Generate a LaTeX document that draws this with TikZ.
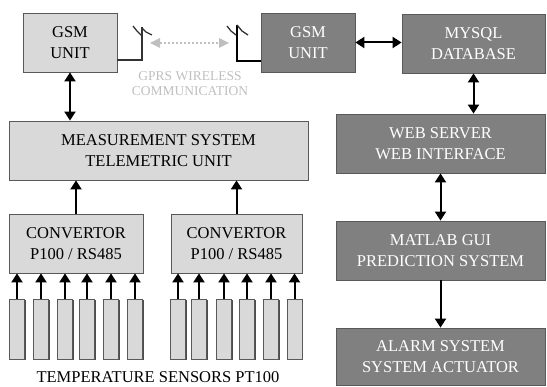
\documentclass[tikz,border=0pt]{standalone}
\usepackage{fontspec}
\setmainfont{Liberation Serif}
\newfontfamily\boxfont{Liberation Serif}
\usetikzlibrary{arrows.meta,shadows}

\begin{document}
\begin{tikzpicture}[x=1pt,y=-1pt,
  lbox/.style={draw=black!65, line width=0.8pt, fill=black!15, align=center,
    font=\boxfont\fontsize{16.5}{21}\selectfont, inner sep=0pt,
    drop shadow={shadow xshift=1.2pt, shadow yshift=-1.5pt, fill=black!70, opacity=1}},
  dbox/.style={lbox, fill=black!50, text=white},
  sensor/.style={lbox, minimum width=15pt, minimum height=60pt},
  link/.style={line width=2pt, -{Triangle[width=11pt,length=9pt]}},
  duplex/.style={link, {Triangle[width=11pt,length=9pt]}-{Triangle[width=11pt,length=9pt]}},
  air/.style={black!25, line width=2pt, dotted,
    {Triangle[width=10pt,length=10pt,line width=0pt]}-{Triangle[width=10pt,length=10pt,line width=0pt]}},
  mast/.style={black!80, line width=1.3pt},
]
\useasboundingbox (0,0) rectangle (547,387);

% field side
\node[lbox, minimum width=94pt, minimum height=59pt] (gsmA) at (70,42.5) {GSM\\UNIT};
\node[lbox, minimum width=299pt, minimum height=59pt] (meas) at (158.5,150.5)
  {MEASUREMENT SYSTEM\\TELEMETRIC UNIT};
\node[lbox, minimum width=134pt, minimum height=59pt] (convA) at (76,243.5)
  {CONVERTOR\\P100 / RS485};
\node[lbox, minimum width=131pt, minimum height=59pt] (convB) at (236.5,243.5)
  {CONVERTOR\\P100 / RS485};

%% sensors
\foreach \x [count=\i] in {17,41,65,87,111,135}
  \node[sensor] (sA\i) at (\x,329) {};
\foreach \x [count=\i] in {178,199,224,247,271,294.5}
  \node[sensor] (sB\i) at (\x,329) {};
\foreach \i in {1,...,6}{
  \draw[link] (sA\i.north) -- (sA\i.north |- convA.south);
  \draw[link] (sB\i.north) -- (sB\i.north |- convB.south);}
\node[font=\boxfont\fontsize{16.5}{20}\selectfont] (tlabel) at (158,377) {TEMPERATURE SENSORS PT100};

\draw[link] (convA.north) -- (convA.north |- meas.south);
\draw[link] (convB.north) -- (convB.north |- meas.south);
\draw[duplex] (gsmA.south) -- (gsmA.south |- meas.north);

% server side
\node[dbox, minimum width=94pt, minimum height=59pt] (gsmB) at (308,42.5) {GSM\\UNIT};
\node[dbox, minimum width=143pt, minimum height=59pt] (mysql) at (473.5,43.5)
  {MYSQL\\DATABASE};
\node[dbox, minimum width=209pt, minimum height=59pt] (web) at (440.5,143.5)
  {WEB SERVER\\WEB INTERFACE};
\node[dbox, minimum width=209pt, minimum height=59pt] (matlab) at (440.5,250.5)
  {MATLAB GUI\\PREDICTION SYSTEM};
\node[dbox, minimum width=209pt, minimum height=57pt] (alarm) at (440.5,356.5)
  {ALARM SYSTEM\\SYSTEM ACTUATOR};

\draw[duplex] (gsmB.east) -- (mysql.west |- gsmB.east);
\draw[duplex] (mysql.south) -- (mysql.south |- web.north);
\draw[duplex] (web.south) -- (matlab.north);
\draw[link] (matlab.south) -- (alarm.north);

%% GPRS link
\coordinate (footA) at (142,60);
\coordinate (topA) at (142,27);
\coordinate (footB) at (237,61);
\coordinate (topB) at (237,25);
\draw[mast] (gsmA.east |- footA) -- (footA) -- (topA);
\draw[mast] (133,26) -- (137,31) -- (142,36);
\draw[mast] (142,28) -- (146,32) -- (152,35);
\draw[mast, black] (gsmB.west |- footB) -- (footB) -- (topB);
\draw[mast] (227,26) -- (231,31) -- (236,35);
\draw[mast] (237,25) -- (242,31) -- (248,35);
\coordinate (airA) at (150,43);
\coordinate (airB) at (229,43);
\draw[air] (airA) -- (airB);
\node[text=black!25, align=center, font=\boxfont\fontsize{13.5}{15}\selectfont] (gprs) at (190,84)
  {GPRS WIRELESS\\COMMUNICATION};

\end{tikzpicture}
\end{document}
